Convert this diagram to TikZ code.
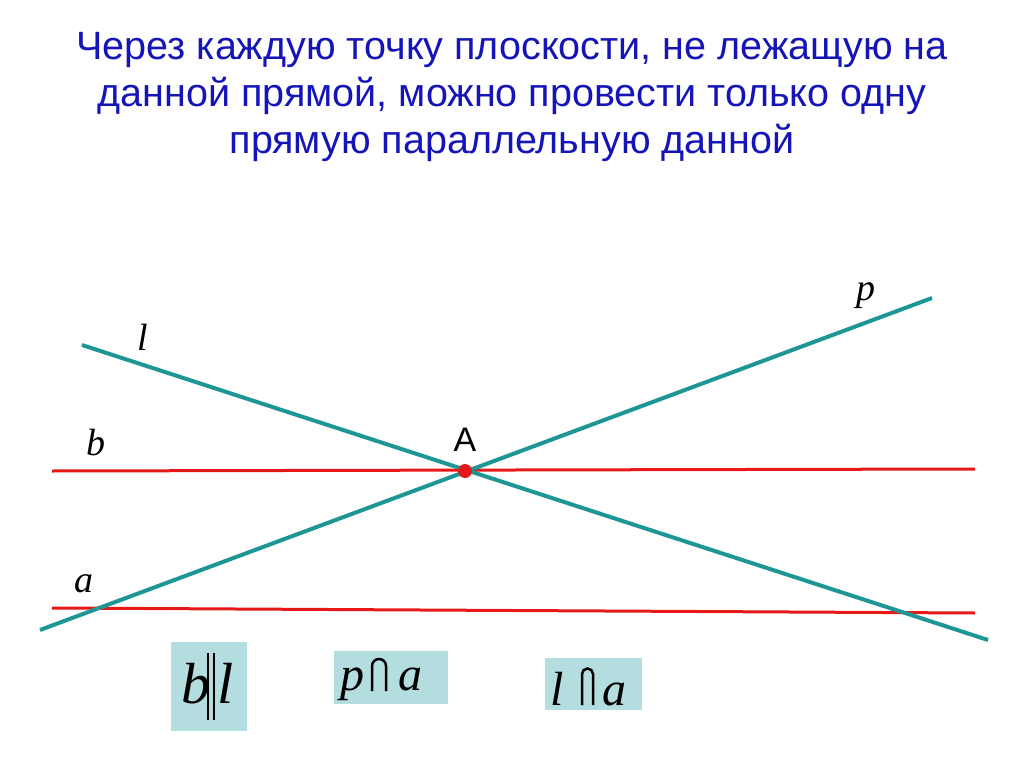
\documentclass[tikz,border=0pt]{standalone}
\usepackage{fontspec}
\setmainfont{Liberation Serif}
\newfontfamily\titlefont{Liberation Sans}
\definecolor{tealline}{RGB}{30,150,150}
\definecolor{redline}{RGB}{230,25,25}
\definecolor{titleblue}{RGB}{20,20,185}
\definecolor{boxblue}{RGB}{180,221,224}
\tikzset{
  tline/.style={tealline,line width=4pt},
  rline/.style={redline,line width=3pt},
  lbl/.style={font=\fontsize{38}{38}\selectfont\itshape,inner sep=0pt,anchor=base},
  sym/.style={font=\fontsize{#1}{#1}\selectfont\itshape,inner sep=0pt,anchor=base west},
  symline/.style={line width=2.5pt}
}
\begin{document}
\begin{tikzpicture}[x=1pt,y=-1pt]
\useasboundingbox (0,0) rectangle (1024,767);

% title
\node[titleblue,align=center,font=\titlefont\fontsize{39.5}{47}\selectfont] (title) at (512,97)
  {Через каждую точку плоскости, не лежащую на\\данной прямой, можно провести только одну\\прямую параллельную данной};

% ends of the lines
\coordinate (l1) at (82,345);  \coordinate (l2) at (988,640);
\coordinate (p1) at (40,630);  \coordinate (p2) at (932,298);
\coordinate (b1) at (52,471);  \coordinate (b2) at (975,469);
\coordinate (a1) at (52,608);  \coordinate (a2) at (975,613);

\draw[rline] (b1) -- (b2);
\draw[rline] (a1) -- (a2);
\draw[tline] (l1) -- (l2);
\draw[tline] (p1) -- (p2);

\fill[redline] (465,471) circle (7pt);
\node[font=\titlefont\fontsize{34}{34}\selectfont,inner sep=0pt,anchor=base] (A) at (465,451) {A};

\node[lbl] (labl) at (143,350) {l};
\node[lbl] (labp) at (866,300) {p};
\node[lbl] (labb) at (96,455) {b};
\node[lbl] (laba) at (84,592) {a};

% notation boxes
\fill[boxblue] (171,642) rectangle (247,731);
\node[sym=58] (bb) at (181,703) {b};
\draw[symline] (208,653) -- (208,720);
\draw[symline] (214,653) -- (214,720);
\node[sym=58] (bl) at (217,703) {l};

\fill[boxblue] (334,651) rectangle (448,704);
\node[sym=48] (pp) at (340,690) {p};
\draw[symline] (372,691) -- (372,666) arc[start angle=180,end angle=360,radius=7] -- (386,691);
\node[sym=48] (pa) at (398,690) {a};

\fill[boxblue] (545,658) rectangle (642,710);
\node[sym=48] (ll) at (550,705) {l};
\draw[symline] (582,705) -- (582,674) arc[start angle=180,end angle=360,radius=5.5] -- (593,705);
\node[sym=48] (la) at (602,705) {a};
\end{tikzpicture}
\end{document}
